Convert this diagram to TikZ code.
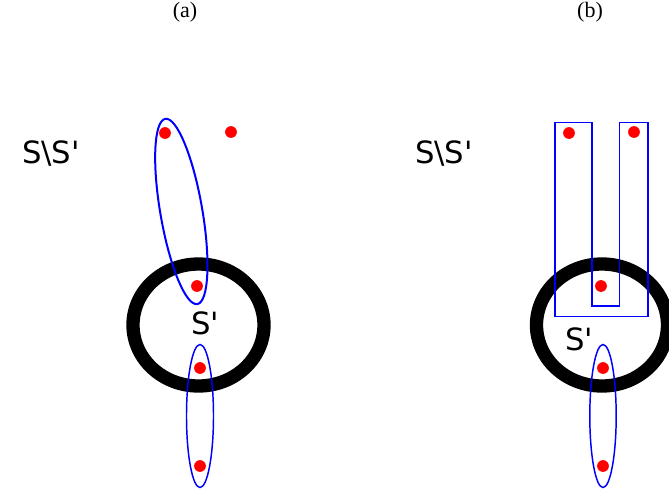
\documentclass[tikz,border=0pt]{standalone}
\usepackage{fontspec}
\setmainfont{Liberation Serif}
\newfontfamily\setfont{DejaVu Sans}
\usetikzlibrary{calc}

\begin{document}
\begin{tikzpicture}[x=0.75pt,y=-0.75pt,
  dot/.style={circle,fill=red,inner sep=0pt,minimum size=8.8pt},
  ring/.style={line width=10pt},
  hull/.style={draw=blue,line width=1.1pt},
  setlbl/.style={font=\setfont\fontsize{23}{26}\selectfont,inner sep=0pt},
  captext/.style={font=\fontsize{16.5}{19}\selectfont,inner sep=0pt}]
  \useasboundingbox (0,0) rectangle (669,494);
  % panel captions
  \node[captext] (capa) at (185,12) {(a)};
  \node[captext] (capb) at (590,12) {(b)};
  % (a): S' as thick ring, points of S\S' outside
  \draw[ring] (198.5,325) ellipse [x radius=65.5,y radius=61];
  \node[setlbl] (outa) at (51,154) {S\textbackslash S'};
  \node[setlbl] (ina) at (205,323) {S'};
  \node[dot] (a1) at (165,133) {}; \node[dot] (a2) at (231,132) {};
  \node[dot] (a3) at (197,286) {};
  \node[dot] (a4) at (200,368) {}; \node[dot] (a5) at (200,466) {};
  \draw[hull,line width=1.5pt,rotate around={9.8:($(a1)!0.5!(a3)+(0,2)$)}]
    ($(a1)!0.5!(a3)+(0,2)$) ellipse [x radius=21,y radius=94];
  \draw[hull] ($(a4)!0.5!(a5)+(0,-1)$) ellipse [x radius=13.5,y radius=71.5];
  % (b): same sets, two strips joined at the bottom
  \draw[ring] (602,325) ellipse [x radius=65.5,y radius=61];
  \node[setlbl] (outb) at (444,154) {S\textbackslash S'};
  \node[setlbl] (inb) at (579,339) {S'};
  \node[dot] (b1) at (569,133) {}; \node[dot] (b2) at (634,132) {};
  \node[dot] (b3) at (601,286) {};
  \node[dot] (b4) at (603,368) {}; \node[dot] (b5) at (603,466) {};
  \draw[hull] (555,122.5) -- (592,122.5) -- (592,306) -- (619.5,306) -- (619.5,122.5)
    -- (648,122.5) -- (648,316.5) -- (555,316.5) -- cycle;
  \draw[hull] ($(b4)!0.5!(b5)+(0,-1)$) ellipse [x radius=13.2,y radius=71.5];
\end{tikzpicture}
\end{document}
